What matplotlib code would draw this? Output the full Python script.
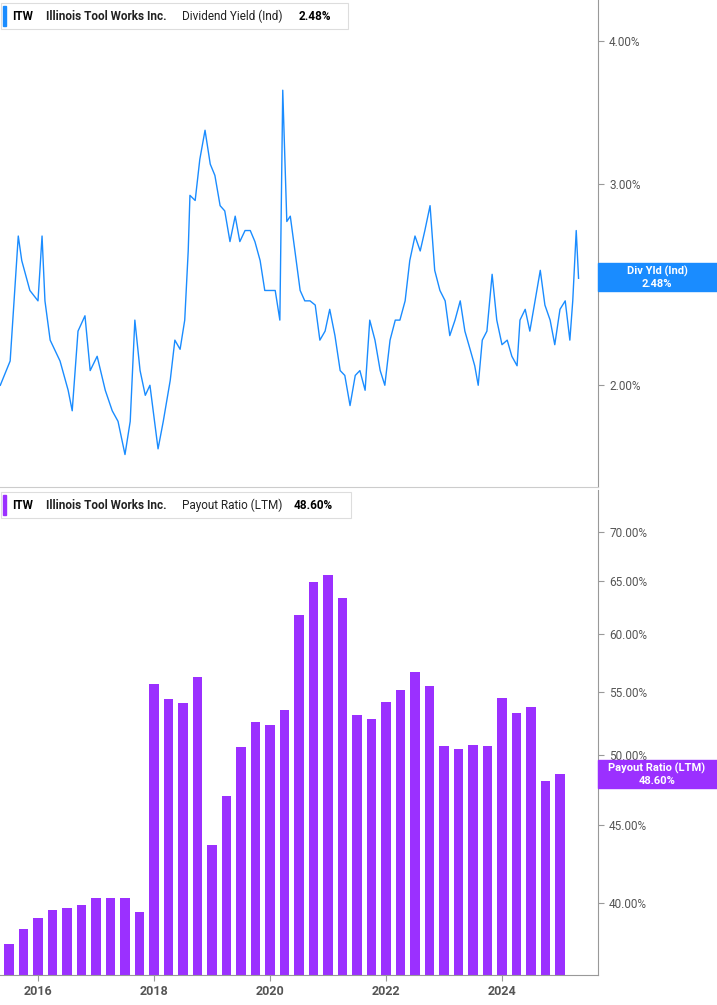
import matplotlib
matplotlib.use("Agg")
import matplotlib.pyplot as plt
from matplotlib.ticker import FixedLocator, NullLocator
plt.rcParams["font.family"] = "Roboto"

yld_t = [2015.35,2015.52,2015.66,2015.72,2015.86,2016.00,2016.07,2016.12,2016.21,2016.38,2016.52,2016.59,2016.69,2016.81,2016.90,2017.02,2017.16,2017.28,2017.38,2017.50,2017.59,2017.67,2017.76,2017.85,2017.93,2018.07,2018.16,2018.28,2018.36,2018.45,2018.53,2018.59,2018.62,2018.71,2018.79,2018.88,2018.97,2019.05,2019.14,2019.22,2019.31,2019.40,2019.48,2019.57,2019.66,2019.74,2019.83,2019.91,2020.00,2020.09,2020.17,2020.22,2020.29,2020.35,2020.43,2020.52,2020.60,2020.69,2020.78,2020.86,2020.95,2021.03,2021.12,2021.21,2021.29,2021.38,2021.47,2021.55,2021.64,2021.72,2021.81,2021.90,2021.98,2022.07,2022.16,2022.24,2022.33,2022.41,2022.50,2022.59,2022.67,2022.76,2022.84,2022.93,2023.02,2023.10,2023.19,2023.28,2023.36,2023.45,2023.53,2023.59,2023.66,2023.74,2023.83,2023.91,2024.00,2024.09,2024.17,2024.26,2024.31,2024.40,2024.48,2024.57,2024.66,2024.74,2024.83,2024.91,2025.00,2025.09,2025.17,2025.22,2025.28,2025.32]
yld_v = [2.00,2.10,2.70,2.57,2.42,2.37,2.70,2.37,2.19,2.10,1.98,1.90,2.23,2.30,2.06,2.12,1.98,1.90,1.86,1.74,1.86,2.28,2.06,1.96,2.00,1.76,1.86,2.02,2.19,2.15,2.28,2.62,2.93,2.90,3.15,3.34,3.12,3.05,2.87,2.84,2.67,2.81,2.67,2.73,2.73,2.67,2.57,2.42,2.42,2.42,2.28,3.62,2.78,2.81,2.62,2.42,2.37,2.37,2.35,2.19,2.23,2.33,2.21,2.06,2.04,1.92,2.04,2.06,1.98,2.28,2.19,2.06,2.00,2.19,2.28,2.28,2.37,2.57,2.70,2.62,2.73,2.87,2.52,2.42,2.37,2.21,2.28,2.37,2.23,2.15,2.08,2.00,2.19,2.23,2.50,2.28,2.17,2.19,2.12,2.08,2.28,2.33,2.23,2.37,2.52,2.35,2.28,2.17,2.33,2.37,2.19,2.37,2.73,2.48]

pay_t = [2015.5 + 0.25*i for i in range(39)]
pay_v = [37.6,38.5,39.1,39.6,39.7,39.9,40.3,40.3,40.3,39.5,55.7,54.4,54.1,56.3,43.7,47.0,50.6,52.6,52.3,53.5,61.8,64.9,65.6,63.4,53.1,52.8,54.2,55.2,56.7,55.5,50.7,50.5,50.8,50.7,54.5,53.3,53.8,48.1,48.6]

yld_ticks = [2.0, 3.0, 4.0]
pay_ticks = [40, 45, 50, 55, 60, 65, 70]
x_ticks = [2016, 2018, 2020, 2022, 2024]

BLUE = "#1a8cff"; PURPLE = "#9b30ff"; GRAY = "#555555"
W, H = 717, 1005
fig = plt.figure(figsize=(W/100, H/100), dpi=100)
axr = 598/W
ax1 = fig.add_axes([0, 1-487/H, axr, 487/H])
ax2 = fig.add_axes([0, 1-975/H, axr, 485/H])
xmin, xmax = 2015.345, 2015.345 + 598/58

ax1.plot(yld_t, yld_v, color=BLUE, lw=1.0)
ax1.set_yscale("log"); ax1.set_ylim(1.63, 4.34)
ax2.bar(pay_t, pay_v, width=0.16, color=PURPLE, align="center")
ax2.set_yscale("log"); ax2.set_ylim(35.9, 74.6)

for ax, ticks in [(ax1, yld_ticks), (ax2, pay_ticks)]:
    ax.set_xlim(xmin, xmax)
    ax.yaxis.set_major_locator(FixedLocator(ticks))
    ax.yaxis.set_minor_locator(NullLocator())
    ax.set_yticklabels(["{:.2f}%".format(t) for t in ticks])
    ax.yaxis.tick_right()
    ax.tick_params(axis="y", length=4, color="#999999", labelsize=8.5, labelcolor=GRAY, pad=4)
    for s in ["top", "left"]:
        ax.spines[s].set_visible(False)
    ax.spines["right"].set_color("#999999")
    ax.spines["bottom"].set_color("#999999")
ax1.set_xticks([]); ax1.spines["bottom"].set_color("#cccccc")
ax2.set_xticks(x_ticks)
ax2.set_xticklabels([str(x) for x in x_ticks])
ax2.tick_params(axis="x", length=4, color="#999999", labelsize=9, labelcolor=GRAY)
for l in ax2.get_xticklabels():
    l.set_fontweight("bold")

def legend(color, txt, val, y, xtxt, xval, wbox):
    fig.patches.append(plt.Rectangle((1/W, 1-(y+13)/H), wbox/W, 26/H, transform=fig.transFigure,
                                     facecolor="white", edgecolor="#dddddd", lw=0.8))
    fig.patches.append(plt.Rectangle((3/W, 1-(y+10)/H), 3/W, 20/H, transform=fig.transFigure, color=color))
    fig.text(12/W, 1-y/H, "ITW", fontsize=8.5, fontweight="bold", va="center")
    fig.text(46/W, 1-y/H, "Illinois Tool Works Inc.", fontsize=8.5, fontweight="bold", va="center", color="#222222")
    fig.text(xtxt/W, 1-y/H, txt, fontsize=8.5, va="center", color="#222222")
    fig.text(xval/W, 1-y/H, val, fontsize=8.5, fontweight="bold", va="center")

legend(BLUE, "Dividend Yield (Ind)", "2.48%", 16, 182, 299, 347)
legend(PURPLE, "Payout Ratio (LTM)", "48.60%", 505, 182, 294, 350)

def tag(y, color, l1, l2, h):
    fig.patches.append(plt.Rectangle((598/W, 1-(y+h/2)/H), 119/W, h/H, transform=fig.transFigure, color=color))
    fig.text(657/W, 1-(y-6)/H, l1, fontsize=8, color="white", ha="center", va="center", fontweight="bold")
    fig.text(657/W, 1-(y+7)/H, l2, fontsize=8, color="white", ha="center", va="center", fontweight="bold")

tag(277, BLUE, "Div Yld (Ind)", "2.48%", 28)
tag(774, PURPLE, "Payout Ratio (LTM)", "48.60%", 28)

fig.savefig("out.png", dpi=100)
